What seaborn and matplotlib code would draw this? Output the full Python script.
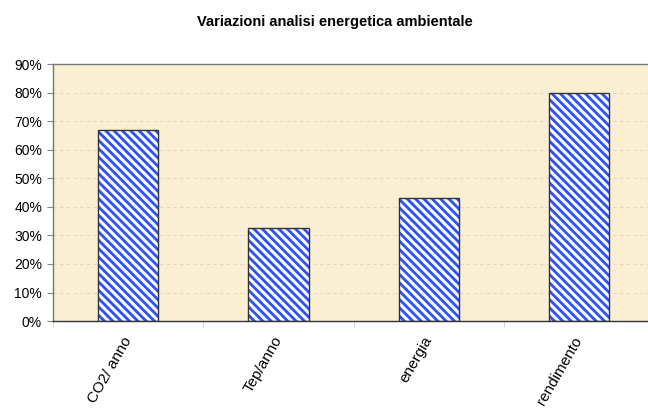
import numpy as np
import pandas as pd
import matplotlib
matplotlib.use('Agg')
import matplotlib.pyplot as plt
import seaborn as sns
from matplotlib.ticker import FixedLocator, PercentFormatter

# ── data ──────────────────────────────────────────────────────────
categories = ['CO2/ anno', 'Tep/anno', 'energia', 'rendimento']
values = [67, 32.5, 43, 80]
yticks = [0, 10, 20, 30, 40, 50, 60, 70, 80, 90]

df = pd.DataFrame({'voce': categories, 'valore': values})

sns.set_style('white')
plt.rcParams['font.family'] = ['Liberation Sans', 'DejaVu Sans']
plt.rcParams['text.color'] = 'black'
plt.rcParams['xtick.color'] = 'black'
plt.rcParams['ytick.color'] = 'black'
plt.rcParams['hatch.linewidth'] = 2.0

fig = plt.figure(figsize=(6.48, 4.09), dpi=100)
ax = fig.add_axes([0.082, 0.215, 0.9275, 0.628])
ax.set_facecolor('#faeed3')

# hatched fill (hatch colour follows the edge colour)
sns.barplot(data=df, x='voce', y='valore', ax=ax, width=0.4,
            facecolor='white', edgecolor='#2a4fff', hatch='\\\\\\\\',
            linewidth=0, zorder=2)
# dark outline on top
sns.barplot(data=df, x='voce', y='valore', ax=ax, width=0.4,
            facecolor='none', edgecolor='#333333', linewidth=1.0, zorder=3)

ax.set_xlim(-0.5, len(categories) - 0.5)
ax.set_ylim(0, 90)
ax.set_yticks(yticks)
ax.yaxis.set_major_formatter(PercentFormatter(decimals=0))
ax.yaxis.grid(True, linestyle=(0, (4, 4)), color='#ddd3bd', linewidth=0.6, zorder=0)
ax.set_axisbelow(True)

ax.tick_params(axis='y', direction='out', length=4, width=0.8, color='#888888',
               labelsize=10, pad=4, left=True)
ax.tick_params(axis='x', which='major', length=0, pad=12, labelsize=11)
ax.xaxis.set_minor_locator(FixedLocator(np.arange(-0.5, len(categories), 1.0)))
ax.tick_params(axis='x', which='minor', direction='out', length=4, color='#cccccc',
               bottom=True)
plt.setp(ax.get_xticklabels(), rotation=60, ha='right', va='center',
         rotation_mode='anchor')

ax.set_xlabel('')
ax.set_ylabel('')
for side in ['left', 'top']:
    ax.spines[side].set_color('#777777')
    ax.spines[side].set_linewidth(1.0)
ax.spines['bottom'].set_color('#333333')
ax.spines['bottom'].set_linewidth(1.0)
ax.spines['right'].set_visible(False)

fig.text(0.517, 1 - 22 / 409, 'Variazioni analisi energetica ambientale',
         ha='center', va='center', fontsize=10.5, fontweight='bold')

plt.savefig('out.png', dpi=100)
plt.close()
